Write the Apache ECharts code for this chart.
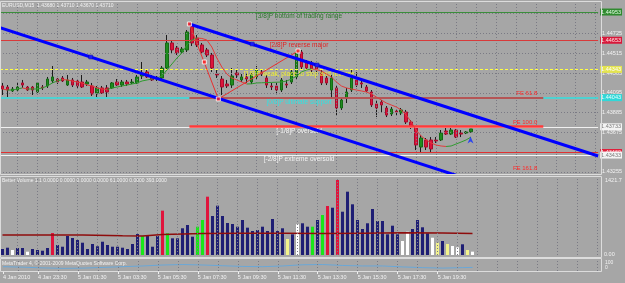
<!DOCTYPE html>
<html>
<head>
<meta charset="utf-8">
<script src="https://cdn.jsdelivr.net/npm/echarts@6/dist/echarts.min.js"></script>
<style>
html, body { margin: 0; padding: 0; background: #a6a6a6; }
#chart { width: 625px; height: 283px; }
</style>
</head>
<body>
<div id="chart"></div>
<script>
// EURUSD M15, bar 0 = 4 Jan 21:45
const barOpen = [
  1.44167, 1.44156, 1.44114, 1.44124, 1.44199, 1.44156, 1.44156, 1.44103, 1.44156, 1.44167,
  1.44220, 1.44241, 1.44252, 1.44177, 1.44231, 1.44220, 1.44209, 1.44188, 1.44167, 1.44092,
  1.44146, 1.44146, 1.44146, 1.44209, 1.44177, 1.44209, 1.44199, 1.44199, 1.44273, 1.44316,
  1.44263, 1.44241, 1.44252, 1.44358, 1.44624, 1.44571, 1.44528, 1.44550, 1.44805, 1.44677,
  1.44603, 1.44550, 1.44496, 1.44294, 1.44241, 1.44188, 1.44177, 1.44305, 1.44231, 1.44263,
  1.44209, 1.44263, 1.44316, 1.44252, 1.44167, 1.44167, 1.44124, 1.44188, 1.44209, 1.44263,
  1.44528, 1.44422, 1.44411, 1.44390, 1.44305, 1.44252, 1.44124, 1.44146, 1.43933, 1.44039,
  1.44124, 1.44231, 1.44199, 1.44156, 1.44103, 1.43976, 1.43997, 1.43933, 1.43869, 1.43901,
  1.43880, 1.43890, 1.43784, 1.43720, 1.43518, 1.43593, 1.43593, 1.43593, 1.43593, 1.43688,
  1.43656, 1.43699, 1.43667, 1.43667, 1.43680
];
const barClose = [
  1.44135, 1.44124, 1.44135, 1.44156, 1.44177, 1.44124, 1.44124, 1.44199, 1.44146, 1.44241,
  1.44263, 1.44209, 1.44220, 1.44231, 1.44177, 1.44167, 1.44156, 1.44209, 1.44082, 1.44146,
  1.44092, 1.44103, 1.44199, 1.44177, 1.44209, 1.44188, 1.44209, 1.44263, 1.44294, 1.44263,
  1.44231, 1.44252, 1.44358, 1.44624, 1.44550, 1.44518, 1.44560, 1.44741, 1.44624, 1.44603,
  1.44528, 1.44496, 1.44358, 1.44284, 1.44156, 1.44167, 1.44273, 1.44284, 1.44263, 1.44241,
  1.44284, 1.44337, 1.44294, 1.44177, 1.44156, 1.44124, 1.44231, 1.44177, 1.44316, 1.44528,
  1.44369, 1.44358, 1.44337, 1.44337, 1.44199, 1.44199, 1.44252, 1.43933, 1.44018, 1.44103,
  1.44252, 1.44177, 1.44188, 1.44114, 1.43965, 1.43933, 1.43965, 1.43858, 1.43922, 1.43890,
  1.43912, 1.43784, 1.43731, 1.43539, 1.43614, 1.43518, 1.43497, 1.43582, 1.43667, 1.43656,
  1.43699, 1.43624, 1.43656, 1.43678, 1.43710
];
const barLow = [
  1.44071, 1.44050, 1.44103, 1.44103, 1.44146, 1.44114, 1.44071, 1.44092, 1.44124, 1.44146,
  1.44199, 1.44188, 1.44209, 1.44167, 1.44156, 1.44146, 1.44146, 1.44167, 1.44061, 1.44050,
  1.44082, 1.44050, 1.44135, 1.44167, 1.44156, 1.44167, 1.44188, 1.44188, 1.44241, 1.44252,
  1.44220, 1.44220, 1.44241, 1.44337, 1.44518, 1.44496, 1.44518, 1.44528, 1.44592, 1.44581,
  1.44518, 1.44475, 1.44316, 1.44252, 1.44071, 1.44146, 1.44146, 1.44252, 1.44209, 1.44199,
  1.44188, 1.44241, 1.44273, 1.44146, 1.44124, 1.44082, 1.44103, 1.44146, 1.44188, 1.44241,
  1.44337, 1.44337, 1.44316, 1.44316, 1.44177, 1.44177, 1.44039, 1.43858, 1.43912, 1.43986,
  1.44103, 1.44156, 1.44146, 1.44103, 1.43944, 1.43837, 1.43880, 1.43837, 1.43848, 1.43858,
  1.43858, 1.43763, 1.43710, 1.43486, 1.43465, 1.43486, 1.43465, 1.43561, 1.43582, 1.43646,
  1.43646, 1.43614, 1.43624, 1.43656, 1.43670
];
const barHigh = [
  1.44199, 1.44177, 1.44156, 1.44199, 1.44231, 1.44167, 1.44167, 1.44209, 1.44177, 1.44263,
  1.44379, 1.44252, 1.44273, 1.44284, 1.44252, 1.44241, 1.44284, 1.44231, 1.44199, 1.44167,
  1.44167, 1.44177, 1.44209, 1.44241, 1.44231, 1.44231, 1.44241, 1.44284, 1.44422, 1.44348,
  1.44284, 1.44273, 1.44379, 1.44709, 1.44645, 1.44592, 1.44581, 1.44762, 1.44837, 1.44709,
  1.44624, 1.44571, 1.44518, 1.44337, 1.44273, 1.44231, 1.44358, 1.44337, 1.44294, 1.44305,
  1.44305, 1.44379, 1.44337, 1.44284, 1.44199, 1.44199, 1.44252, 1.44231, 1.44337, 1.44550,
  1.44550, 1.44443, 1.44433, 1.44411, 1.44337, 1.44273, 1.44284, 1.44167, 1.44039, 1.44146,
  1.44337, 1.44316, 1.44231, 1.44177, 1.44124, 1.44018, 1.44018, 1.43954, 1.43944, 1.43922,
  1.43933, 1.43912, 1.43805, 1.43742, 1.43646, 1.43614, 1.43624, 1.43624, 1.43699, 1.43720,
  1.43720, 1.43710, 1.43699, 1.43688, 1.43710
];
// moving average drawn over the candles
const maValues = [
  1.44135, 1.44124, 1.44124, 1.44135, 1.44146, 1.44135, 1.44135, 1.44135, 1.44146, 1.44167,
  1.44199, 1.44220, 1.44236, 1.44231, 1.44220, 1.44209, 1.44199, 1.44177, 1.44167, 1.44146,
  1.44135, 1.44130, 1.44146, 1.44156, 1.44167, 1.44177, 1.44188, 1.44199, 1.44220, 1.44231,
  1.44241, 1.44252, 1.44273, 1.44337, 1.44401, 1.44464, 1.44518, 1.44603, 1.44656, 1.44677,
  1.44672, 1.44656, 1.44581, 1.44464, 1.44369, 1.44294, 1.44252, 1.44231, 1.44209, 1.44188,
  1.44190, 1.44199, 1.44201, 1.44203, 1.44205, 1.44207, 1.44209, 1.44220, 1.44241, 1.44273,
  1.44316, 1.44337, 1.44348, 1.44342, 1.44326, 1.44294, 1.44263, 1.44209, 1.44167, 1.44146,
  1.44135, 1.44124, 1.44114, 1.44103, 1.44082, 1.44050, 1.44018, 1.43986, 1.43965, 1.43944,
  1.43912, 1.43858, 1.43784, 1.43699, 1.43635, 1.43593, 1.43561, 1.43539, 1.43529, 1.43524,
  1.43529, 1.43550, 1.43571, 1.43593, 1.43624
];

// Better Volume pane
const volValues = [
  109, 133, 91, 128, 128, 60, 109, 91, 78, 128,
  401, 182, 151, 346, 310, 273, 224, 109, 200, 159,
  242, 182, 151, 151, 133, 109, 200, 383, 346, 346,
  151, 346, 808, 396, 304, 304, 487, 547, 334, 516,
  638, 1063, 711, 899, 711, 583, 565, 516, 638, 498,
  437, 456, 516, 437, 656, 437, 487, 292, 377, 560,
  578, 516, 516, 638, 729, 893, 862, 1367, 789, 1154,
  924, 638, 474, 578, 839, 620, 620, 377, 534, 377,
  255, 425, 474, 638, 505, 396, 315, 224, 255, 200,
  164, 140, 195, 91, 61
];
// n = normal, r = climax, g = churn, w = low volume, y = low volume churn
const volType = ('nnwnnwnnnn' + 'rnnnnnnnnn' + 'nnnnnnnngn' + 'nnrgnnnnng' + 'grnnnnnnnn' +
                 'nnnnnnnynw' + 'nngngrnrnn' + 'nnnnnnnnnn' + 'wwnnnnwyny' + 'wwnyw').split('');
const volMa = [[0, 364], [8, 364], [16, 364], [24, 350], [28, 345], [32, 375], [40, 390], [48, 395],
               [56, 395], [64, 392], [72, 398], [80, 404], [88, 400], [94, 393]];
const indValues = [[0, 36], [4, 32], [8, 26], [12, 22], [16, 24], [20, 30], [24, 36], [28, 42],
                   [32, 50], [36, 54], [40, 50], [44, 44], [48, 38], [52, 36], [56, 42], [60, 52],
                   [64, 54], [68, 46], [72, 42], [76, 42], [80, 34], [84, 28], [88, 24], [92, 28], [94, 30]];

const timeTicks = [0, 7, 15, 23, 31, 39, 47, 55, 63, 71, 79, 87];
const timeLabels = ['4 Jan 2010', '4 Jan 23:30', '5 Jan 01:30', '5 Jan 03:30', '5 Jan 05:30', '5 Jan 07:30',
                    '5 Jan 09:30', '5 Jan 11:30', '5 Jan 13:30', '5 Jan 15:30', '5 Jan 17:30', '5 Jan 19:30'];
const priceTicks = [1.43255, 1.43465, 1.43675, 1.43885, 1.44095, 1.44305, 1.44515, 1.44725, 1.44935];

// Murrey math levels and objects
const murreyLevels = [1.44953, 1.44653, 1.44343, 1.44043, 1.43733, 1.43433];
const murreyNames = ['[3/8]P bottom of trading range', '[2/8]P reverse major',
                     '[1/8]P weak, place to stop and reverse', '[0/8]P ultimate support',
                     '[-1/8]P oversold', '[-2/8]P extreme oversold'];
const redLevel = 1.43460;
const feLevels = [1.44046, 1.43742, 1.43249];
const feNames = ['FE 61.8', 'FE 100.0', 'FE 161.8'];
const feRange = [37.5, 108.5];
const upperChannel = [[37.5, 1.44826], [119.5, 1.43423]];
const lowerChannel = [[-0.5, 1.44787], [119.5, 1.42729]];
const channelMarks = [[17.7, 1.44475], [50.1, 1.44613], [63.1, 1.44390]];
const zigzag = [[37.5, 1.44826], [43.3, 1.44029], [59.3, 1.44539]];
const zigzagMarks = [[37.5, 1.44826], [40.5, 1.44422], [43.3, 1.44029], [59.3, 1.44539]];
const buyArrow = [[93.9, 1.43593]];

const FONT = 'Liberation Sans, Arial, sans-serif';
const SLOTS = 120;
const DOT = {color: '#7a7a84', width: 1, type: [1, 2]};
const CLEAR = 'rgba(0,0,0,0)';

const cats = [];
const labelAt = {};
for (let i = 0; i < SLOTS; i++) cats.push('b' + i);
timeTicks.forEach((t, k) => { labelAt[t] = timeLabels[k]; });

const vLines = [];
for (let i = 3; i < SLOTS; i += 4) vLines.push({xAxis: i});
const hLines = priceTicks.map(v => ({yAxis: v}));

const levelStyle = [
  {line: '#3b8e3b', width: 1, type: 'solid', text: '#2e782e', box: '#2f8a2f', boxText: '#e8ffe8'},
  {line: '#d83a3a', width: 1, type: 'solid', text: '#e02424', box: '#d8183a', boxText: '#ffe8e8'},
  {line: '#ffff40', width: 1, type: [3, 2], text: '#f4f430', box: '#e4e450', boxText: '#ffffff'},
  {line: '#30e0e0', width: 1.5, type: 'solid', text: '#2ee4e4', box: '#30d8d8', boxText: '#e8ffff'},
  {line: '#f0f0f0', width: 1, type: 'solid', text: '#f4f4f4', box: '#f4f4f4', boxText: '#7a7a7a'},
  {line: '#f4f4f4', width: 1, type: 'solid', text: '#f4f4f4', box: '#f4f4f4', boxText: '#7a7a7a'}
];

function boxLabel(v, bg, fg) {
  return {show: true, position: 'end', formatter: v.toFixed(5), backgroundColor: bg, color: fg,
          fontSize: 5.5, fontFamily: FONT, padding: [1, 1, 0, 1], distance: 2};
}

const levelLines = [];
levelLines.push({yAxis: redLevel, lineStyle: {color: '#e03232', width: 1, type: 'solid'}, label: {show: false}});
levelLines.push({yAxis: redLevel, lineStyle: {color: CLEAR, width: 1}, label: boxLabel(redLevel, '#e0203c', '#ffe8e8')});
murreyLevels.forEach((lvl, i) => {
  const s = levelStyle[i];
  levelLines.push({
    yAxis: lvl,
    lineStyle: {color: s.line, width: s.width, type: s.type},
    label: {show: true, position: 'insideMiddleBottom', formatter: murreyNames[i], color: s.text,
            fontSize: 6.5, fontFamily: FONT, distance: 1}
  });
  levelLines.push({yAxis: lvl, lineStyle: {color: CLEAR, width: 1}, label: boxLabel(lvl, s.box, s.boxText)});
});

const feStyle = [
  {color: '#d92b2b', width: 1.5, type: 'solid'},
  {color: '#ff3a3a', width: 2.5, type: 'solid'},
  {color: CLEAR, width: 1, type: 'solid'}
];
const feLines = feLevels.map((lvl, i) => [
  {coord: [feRange[0], lvl], lineStyle: feStyle[i],
   label: {show: true, position: 'insideEndTop', formatter: feNames[i], color: '#ff2a2a',
           fontSize: 6, fontFamily: FONT, distance: [6, 1]}},
  {coord: [feRange[1], lvl]}
]);

const candleData = barOpen.map((o, i) => [o, barClose[i], barLow[i], barHigh[i]]);
const bodyData = barOpen.map((o, i) => [o, barClose[i], Math.min(o, barClose[i]), Math.max(o, barClose[i])]);

const volColor = {n: '#1e1e74', r: '#e0143c', g: '#18e818', w: '#ffffff', y: '#f2f28c'};
const volData = volValues.map((v, i) => ({value: v, itemStyle: {color: volColor[volType[i]]}}));

const maPieces = [];
for (let i = 0; i < maValues.length - 1; i++) {
  maPieces.push({gte: i, lt: i + 1, color: maValues[i + 1] >= maValues[i] ? '#2f9a2f' : '#e23a3a'});
}

const gridLineMark = (lines) => ({
  silent: true, symbol: ['none', 'none'], label: {show: false}, precision: 5,
  lineStyle: DOT, data: lines, animation: false
});

const chart = echarts.init(document.getElementById('chart'));

const option = {
  backgroundColor: '#a6a6a6',
  animation: false,
  textStyle: {fontFamily: FONT},
  grid: [
    {left: 0, top: 3, width: 600, height: 170},
    {left: 0, top: 177, width: 600, height: 78},
    {left: 0, top: 259, width: 600, height: 12}
  ],
  xAxis: [
    {type: 'category', gridIndex: 0, data: cats, boundaryGap: true, show: false},
    {type: 'value', gridIndex: 0, min: -0.5, max: 119.5, show: false},
    {type: 'category', gridIndex: 1, data: cats, boundaryGap: true, show: false},
    {type: 'category', gridIndex: 2, data: cats, boundaryGap: true, position: 'bottom',
     axisLine: {show: false}, splitLine: {show: false},
     axisTick: {show: true, alignWithLabel: true, interval: (i) => labelAt[i] !== undefined, length: 3,
                lineStyle: {color: '#f0f0f0'}},
     axisLabel: {interval: (i) => labelAt[i] !== undefined, formatter: (v, i) => labelAt[i] || '',
                 align: 'left', fontSize: 5.5, color: '#f2f2f2', margin: 3, fontFamily: FONT}}
  ],
  yAxis: [
    {type: 'value', gridIndex: 0, position: 'right', min: 1.43242, max: 1.45049,
     splitLine: {show: false}, axisLine: {show: false}, axisTick: {show: false},
     axisLabel: {customValues: priceTicks, formatter: v => v.toFixed(5), fontSize: 5.5,
                 color: '#f2f2f2', margin: 4, fontFamily: FONT}},
    {type: 'value', gridIndex: 1, min: 0, max: 1421.7, show: false},
    {type: 'value', gridIndex: 2, min: 0, max: 100, show: false}
  ],
  visualMap: [{type: 'piecewise', show: false, seriesIndex: 4, dimension: 0, pieces: maPieces,
               outOfRange: {color: '#e23a3a'}}],
  series: [
    {type: 'line', xAxisIndex: 0, yAxisIndex: 0, data: [], z: 1, silent: true,
     markLine: gridLineMark(vLines.concat(hLines))},
    {type: 'line', xAxisIndex: 0, yAxisIndex: 0, data: [], z: 5.5, silent: true,
     markLine: {silent: true, symbol: ['none', 'none'], precision: 5, data: levelLines, animation: false}},
    {type: 'candlestick', xAxisIndex: 0, yAxisIndex: 0, data: candleData, barWidth: 1, z: 3, silent: true,
     itemStyle: {color: '#1c1c1c', color0: '#1c1c1c', borderColor: '#1c1c1c', borderColor0: '#1c1c1c',
                 borderColorDoji: '#1c1c1c', borderWidth: 1}},
    {type: 'candlestick', xAxisIndex: 0, yAxisIndex: 0, data: bodyData, barWidth: 3, z: 4, silent: true,
     itemStyle: {color: '#1f8c1f', color0: '#dc143c', borderColor: '#136a13', borderColor0: '#a80c2c',
                 borderColorDoji: '#1c1c1c', borderWidth: 1}},
    {type: 'line', xAxisIndex: 0, yAxisIndex: 0, data: maValues, symbol: 'none', z: 5, silent: true,
     lineStyle: {width: 1}},
    {type: 'line', xAxisIndex: 1, yAxisIndex: 0, data: [], z: 6, silent: true,
     markLine: {silent: true, symbol: ['none', 'none'], precision: 5, data: feLines, animation: false}},
    {type: 'line', xAxisIndex: 1, yAxisIndex: 0, data: zigzag, symbol: 'none', z: 6, silent: true,
     lineStyle: {color: '#e83030', width: 1}},
    {type: 'line', xAxisIndex: 1, yAxisIndex: 0, data: upperChannel, symbol: 'none', z: 7, silent: true,
     clip: true, lineStyle: {color: '#0000ff', width: 3}},
    {type: 'line', xAxisIndex: 1, yAxisIndex: 0, data: lowerChannel, symbol: 'none', z: 7, silent: true,
     clip: true, lineStyle: {color: '#0000ff', width: 3}},
    {type: 'scatter', xAxisIndex: 1, yAxisIndex: 0, data: channelMarks, symbol: 'rect', symbolSize: 4,
     z: 8, silent: true, itemStyle: {color: '#2020ff', borderColor: '#000080', borderWidth: 0.5}},
    {type: 'scatter', xAxisIndex: 1, yAxisIndex: 0, data: zigzagMarks, symbol: 'rect', symbolSize: 4,
     z: 8, silent: true, itemStyle: {color: '#ff2020', borderColor: '#ffffff', borderWidth: 1}},
    {type: 'scatter', xAxisIndex: 1, yAxisIndex: 0, data: buyArrow, symbol: 'path://M5,0 L10,10 L5,7 L0,10 Z',
     symbolSize: [6, 7], z: 8, silent: true, itemStyle: {color: '#1030ff'}},
    {type: 'line', xAxisIndex: 2, yAxisIndex: 1, data: [], z: 1, silent: true,
     markLine: gridLineMark(vLines)},
    {type: 'bar', xAxisIndex: 2, yAxisIndex: 1, data: volData, barWidth: 3, z: 3, silent: true},
    {type: 'line', xAxisIndex: 2, yAxisIndex: 1, data: volMa, symbol: 'none', z: 4, silent: true,
     lineStyle: {color: '#8e0c0c', width: 1.5}},
    {type: 'line', xAxisIndex: 3, yAxisIndex: 2, data: [], z: 1, silent: true,
     markLine: gridLineMark(vLines)},
    {type: 'line', xAxisIndex: 3, yAxisIndex: 2, data: indValues, symbol: 'none', z: 3, silent: true,
     lineStyle: {color: '#6aa8d8', width: 1}}
  ],
  graphic: [
    {type: 'rect', silent: true, z: 50, shape: {x: 0.5, y: 1.5, width: 601, height: 173},
     style: {fill: null, stroke: '#dcdcdc', lineWidth: 1}},
    {type: 'rect', silent: true, z: 50, shape: {x: 0.5, y: 176.5, width: 601, height: 81},
     style: {fill: null, stroke: '#dcdcdc', lineWidth: 1}},
    {type: 'rect', silent: true, z: 50, shape: {x: 0.5, y: 258.5, width: 601, height: 13},
     style: {fill: null, stroke: '#dcdcdc', lineWidth: 1}},
    {type: 'text', silent: true, z: 51, left: 2, top: 3,
     style: {text: 'EURUSD,M15  1.43680 1.43710 1.43670 1.43710', fill: '#f2f2f2', fontSize: 5, fontFamily: FONT}},
    {type: 'text', silent: true, z: 51, left: 2, top: 178,
     style: {text: 'Better Volume 1.1 0.0000 0.0000 0.0000 0.0000 61.0000 0.0000 393.0000', fill: '#f2f2f2', fontSize: 5, fontFamily: FONT}},
    {type: 'text', silent: true, z: 51, left: 2, top: 261,
     style: {text: 'MetaTrader 4, \u00a9 2001-2009 MetaQuotes Software Corp.', fill: '#f2f2f2', fontSize: 5, fontFamily: FONT}},
    {type: 'text', silent: true, z: 51, left: 605, top: 177,
     style: {text: '1421.7', fill: '#f2f2f2', fontSize: 5.5, fontFamily: FONT}},
    {type: 'text', silent: true, z: 51, left: 604, top: 251,
     style: {text: '0.00', fill: '#f2f2f2', fontSize: 5.5, fontFamily: FONT}},
    {type: 'text', silent: true, z: 51, left: 605, top: 260,
     style: {text: '100', fill: '#f2f2f2', fontSize: 5, fontFamily: FONT}},
    {type: 'text', silent: true, z: 51, left: 605, top: 265,
     style: {text: '0', fill: '#f2f2f2', fontSize: 5, fontFamily: FONT}}
  ]
};

chart.setOption(option);
</script>
</body>
</html>
